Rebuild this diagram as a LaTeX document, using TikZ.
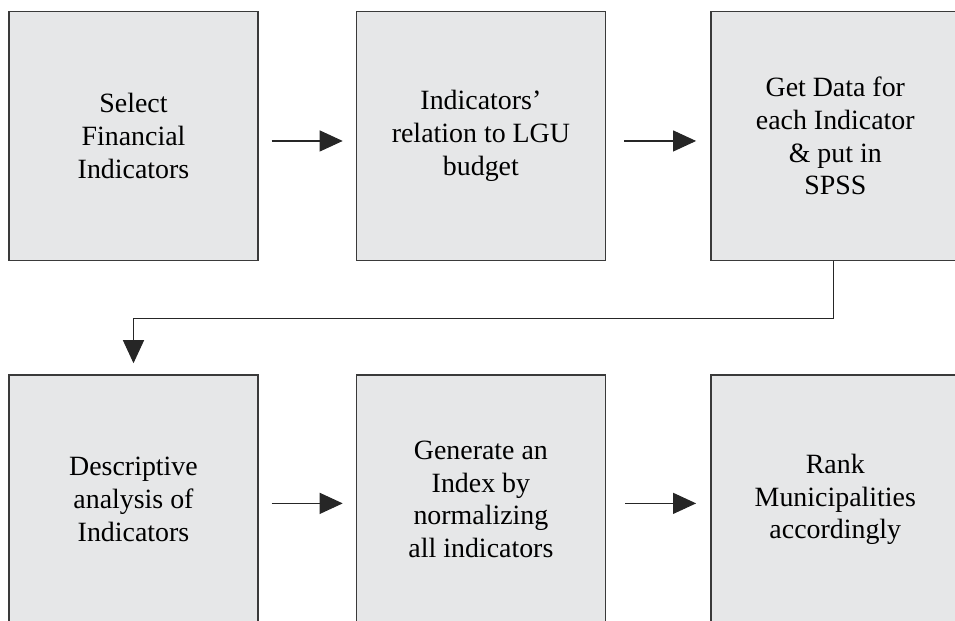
\documentclass[tikz,border=0pt]{standalone}
\usepackage{fontspec}
\setmainfont{Liberation Serif}
\usepackage{tikz}
\usetikzlibrary{positioning,arrows.meta}
\definecolor{boxfill}{HTML}{E6E7E8}
\definecolor{boxline}{HTML}{3A3A3A}
\tikzstyle{block} = [rectangle, draw=boxline, fill=boxfill, line width=1.4bp,
    minimum width=249bp, minimum height=249bp, align=center,
    font=\fontsize{28}{33}\selectfont]
\tikzstyle{arrow} = [line width=1.1bp, draw=black!85, -{Triangle[length=23bp,width=21bp]}]

\begin{document}
\begin{tikzpicture}[x=1bp, y=1bp, node distance=98bp]
		\path[use as bounding box, clip] (0,0) rectangle (955,621);
		% draw the boxes first
		\node [block] at (133.5,485) (select) {Select\\Financial\\Indicators};
		\node [block, right=97bp of select] (relation) {Indicators'\\relation to LGU\\budget};
		\node [block, right=104bp of relation] (getdata) {Get Data for\\each Indicator\\\& put in\\SPSS};
		\node [block, below=113bp of select] (descriptive) {Descriptive\\analysis of\\Indicators};
		\node [block, right=97bp of descriptive] (index) {Generate an\\Index by\\normalizing\\all indicators};
		\node [block, right=104bp of index] (rank) {Rank\\Municipalities\\accordingly};

		% draw the arrows between boxes
		\draw [arrow, shorten <=13bp, shorten >=13bp] ([yshift=-5]select.east) -- ([yshift=-5]relation.west);
		\draw [arrow, shorten <=18bp, shorten >=14bp] ([yshift=-5]relation.east) -- ([yshift=-5]getdata.west);
		\draw [arrow] ([xshift=-2]getdata.south) -- ++(0,-57) -| ([yshift=11]descriptive.north);
		\draw [arrow, shorten <=13bp, shorten >=13bp] ([yshift=-4]descriptive.east) -- ([yshift=-4]index.west);
		\draw [arrow, shorten <=19bp, shorten >=14bp] ([yshift=-4]index.east) -- ([yshift=-4]rank.west);
\end{tikzpicture}
\end{document}
